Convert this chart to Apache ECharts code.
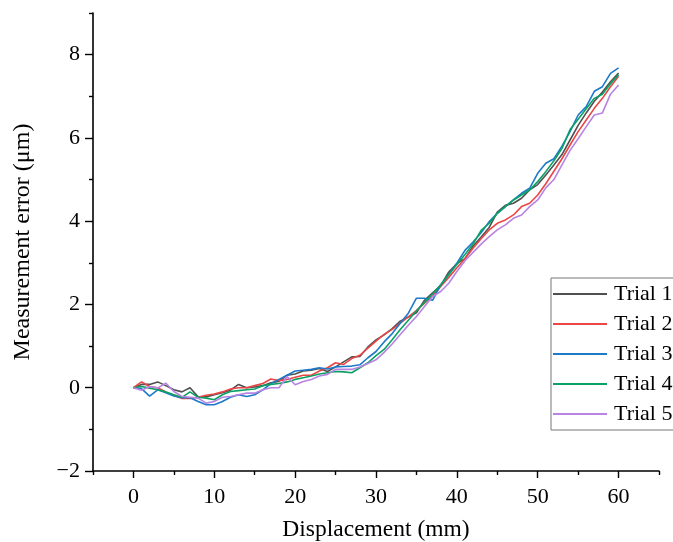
<!DOCTYPE html>
<html>
<head>
<meta charset="utf-8">
<script src="https://cdn.jsdelivr.net/npm/echarts@6/dist/echarts.min.js"></script>
<style>
  html, body { margin: 0; padding: 0; background: #fff; }
  #chart { width: 673px; height: 542px; }
</style>
</head>
<body>
<div id="chart"></div>
<script>
// Displacement positions (mm), one reading per millimetre
const displacement = Array.from({ length: 61 }, (_, i) => i);

// Measurement error (µm) for each trial
const trial1 = [0, 0.08, 0.08, 0.14, 0.05, -0.05, -0.1, 0.0, -0.22, -0.22,
  -0.17, -0.12, -0.06, 0.08, 0.0, 0.02, 0.05, 0.12, 0.15, 0.3,
  0.33, 0.4, 0.42, 0.46, 0.39, 0.5, 0.62, 0.74, 0.75, 0.98,
  1.15, 1.27, 1.42, 1.6, 1.7, 1.8, 2.1, 2.28, 2.45, 2.78,
  2.98, 3.1, 3.4, 3.62, 3.85, 4.22, 4.38, 4.43, 4.55, 4.75,
  4.88, 5.11, 5.35, 5.6, 5.95, 6.3, 6.6, 6.88, 7.1, 7.35, 7.56];

const trial2 = [0, 0.14, 0.03, 0.0, -0.1, -0.18, -0.26, -0.26, -0.23, -0.18,
  -0.15, -0.1, -0.03, 0.0, 0.0, 0.05, 0.1, 0.21, 0.17, 0.2,
  0.25, 0.3, 0.3, 0.4, 0.48, 0.6, 0.56, 0.7, 0.78, 0.95,
  1.12, 1.28, 1.4, 1.55, 1.7, 1.85, 2.03, 2.2, 2.43, 2.65,
  2.88, 3.1, 3.35, 3.58, 3.79, 3.95, 4.03, 4.15, 4.35, 4.43,
  4.63, 4.9, 5.2, 5.5, 5.83, 6.15, 6.43, 6.71, 6.95, 7.23, 7.48];

const trial3 = [0, -0.02, -0.2, -0.05, -0.12, -0.2, -0.24, -0.24, -0.33, -0.41,
  -0.41, -0.33, -0.23, -0.17, -0.21, -0.17, -0.05, 0.1, 0.2, 0.3,
  0.4, 0.42, 0.44, 0.48, 0.45, 0.5, 0.51, 0.52, 0.55, 0.72,
  0.87, 1.1, 1.3, 1.55, 1.79, 2.15, 2.15, 2.1, 2.47, 2.72,
  2.99, 3.3, 3.5, 3.72, 3.99, 4.19, 4.35, 4.51, 4.67, 4.79,
  5.15, 5.39, 5.5, 5.8, 6.15, 6.55, 6.75, 7.12, 7.23, 7.55, 7.68];

const trial4 = [0, 0.03, -0.01, -0.05, -0.1, -0.17, -0.23, -0.1, -0.23, -0.25,
  -0.29, -0.17, -0.09, -0.07, -0.05, -0.03, 0.05, 0.08, 0.1, 0.14,
  0.2, 0.24, 0.28, 0.33, 0.36, 0.39, 0.38, 0.36, 0.48, 0.6,
  0.77, 0.92, 1.15, 1.4, 1.62, 1.85, 2.05, 2.25, 2.47, 2.72,
  2.96, 3.2, 3.45, 3.78, 3.95, 4.19, 4.35, 4.51, 4.63, 4.75,
  4.95, 5.19, 5.45, 5.75, 6.2, 6.45, 6.7, 6.95, 7.05, 7.3, 7.52];

const trial5 = [0, -0.06, 0.03, -0.01, 0.11, -0.09, -0.21, -0.23, -0.25, -0.37,
  -0.33, -0.23, -0.21, -0.17, -0.13, -0.13, -0.05, 0.0, 0.0, 0.27,
  0.07, 0.15, 0.2, 0.28, 0.32, 0.44, 0.44, 0.44, 0.5, 0.58,
  0.67, 0.85, 1.05, 1.28, 1.5, 1.71, 1.95, 2.19, 2.31, 2.51,
  2.79, 3.05, 3.25, 3.45, 3.63, 3.79, 3.91, 4.07, 4.15, 4.35,
  4.51, 4.8, 5.0, 5.35, 5.7, 5.98, 6.27, 6.55, 6.6, 7.05, 7.27];

const trialNames = ['Trial 1', 'Trial 2', 'Trial 3', 'Trial 4', 'Trial 5'];
const trialValues = [trial1, trial2, trial3, trial4, trial5];
const trialColors = ['#505050', '#ec4545', '#1c7ac9', '#0aa264', '#b883e2'];

// Tick positions
const xMajorTicks = [0, 10, 20, 30, 40, 50, 60];
const xMinorTicks = [-5, 5, 15, 25, 35, 45, 55, 65];
const yMajorTicks = [-2, 0, 2, 4, 6, 8];
const yMinorTicks = [-1, 1, 3, 5, 7, 9];

const serif = '"Liberation Serif", "Times New Roman", serif';
const black = '#000';

const chart = echarts.init(document.getElementById('chart'), null, { renderer: 'canvas' });

const series = trialNames.map((name, k) => ({
  name,
  type: 'line',
  xAxisIndex: 0,
  yAxisIndex: 0,
  data: displacement.map((x, i) => [x, trialValues[k][i]]),
  showSymbol: false,
  symbol: 'none',
  lineStyle: { color: trialColors[k], width: 1.6 },
  itemStyle: { color: trialColors[k] },
  emphasis: { disabled: true },
  animation: false
}));

// Helper axes that only carry the short intermediate ticks
const minorAxisBase = {
  type: 'value',
  axisLine: { show: false, onZero: false },
  axisLabel: { show: false },
  splitLine: { show: false }
};

chart.setOption({
  animation: false,
  backgroundColor: '#fff',
  grid: { left: 93, right: 14, top: 13, bottom: 71, containLabel: false, outerBoundsMode: 'none' },
  legend: {
    data: trialNames,
    orient: 'vertical',
    left: 551,
    top: 278,
    icon: 'rect',
    itemWidth: 54,
    itemHeight: 2,
    itemGap: 8,
    padding: [5, 40, 5, 2],
    backgroundColor: '#fff',
    borderColor: '#777',
    borderWidth: 1,
    textStyle: { fontFamily: serif, fontSize: 22, color: black, padding: [0, 0, 0, 2] },
    selectedMode: false
  },
  xAxis: [
    {
      type: 'value',
      min: -5,
      max: 65,
      position: 'bottom',
      name: 'Displacement (mm)',
      nameLocation: 'middle',
      nameGap: 47,
      nameTextStyle: { fontFamily: serif, fontSize: 23.5, color: black },
      axisLine: { show: true, onZero: false, lineStyle: { color: black, width: 1.6 } },
      axisTick: { show: true, customValues: xMajorTicks, length: 7, lineStyle: { color: black, width: 1.4 } },
      axisLabel: { customValues: xMajorTicks, margin: 15, fontFamily: serif, fontSize: 22, color: black },
      splitLine: { show: false }
    },
    Object.assign({}, minorAxisBase, {
      min: -5,
      max: 65,
      position: 'bottom',
      axisTick: { show: true, customValues: xMinorTicks, length: 4, lineStyle: { color: black, width: 1.4 } }
    })
  ],
  yAxis: [
    {
      type: 'value',
      min: -2,
      max: 9,
      position: 'left',
      name: 'Measurement error (μm)',
      nameLocation: 'middle',
      nameGap: 58,
      nameTextStyle: { fontFamily: serif, fontSize: 24, color: black },
      axisLine: { show: true, onZero: false, lineStyle: { color: black, width: 1.6 } },
      axisTick: { show: true, customValues: yMajorTicks, length: 8, lineStyle: { color: black, width: 1.4 } },
      axisLabel: {
        customValues: yMajorTicks,
        margin: 13,
        fontFamily: serif,
        fontSize: 22,
        color: black,
        formatter: v => String(v).replace('-', '\u2212')
      },
      splitLine: { show: false }
    },
    Object.assign({}, minorAxisBase, {
      min: -2,
      max: 9,
      position: 'left',
      axisTick: { show: true, customValues: yMinorTicks, length: 4, lineStyle: { color: black, width: 1.4 } }
    })
  ],
  series
});
</script>
</body>
</html>
